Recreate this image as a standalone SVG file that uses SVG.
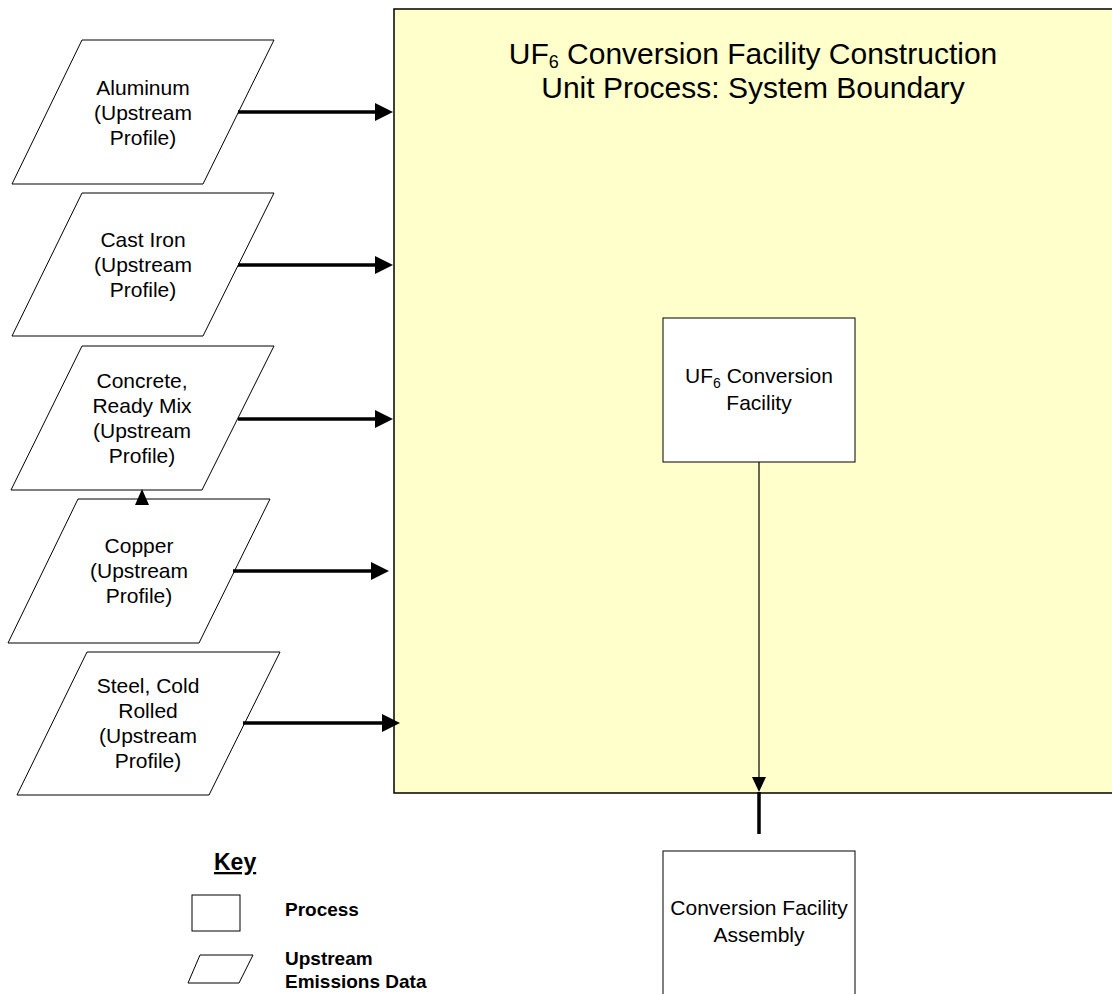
<svg xmlns="http://www.w3.org/2000/svg" width="1112" height="994" viewBox="0 0 1112 994">
<defs>
<style>
.t{font-family:"Liberation Sans",Arial,sans-serif;font-size:21px;fill:#000;text-anchor:middle}
.title{font-family:"Liberation Sans",Arial,sans-serif;font-size:30px;fill:#000;text-anchor:middle}
.k{font-family:"Liberation Sans",Arial,sans-serif;font-weight:bold;font-size:19px;fill:#000}
.key{font-size:23px;text-decoration:underline}
.shape{fill:#fff;stroke:#000;stroke-width:1}
.thick{stroke:#000;stroke-width:3.5;fill:none}
.thin{stroke:#000;stroke-width:1.2;fill:none}
.ah{fill:#000}
</style>
</defs>
<rect width="1112" height="994" fill="#fff"/>
<g id="boundary">
<path d="M1113,9 H394 V793 H1113" fill="#FFFFCC" stroke="#000" stroke-width="1.5"/>
<text class="title" x="753" y="64">UF<tspan font-size="18" dy="4">6</tspan><tspan dy="-4"> Conversion Facility Construction</tspan></text>
<text class="title" x="753" y="98">Unit Process: System Boundary</text>
</g>
<g id="aluminum">
<polygon class="shape" points="82,40 274,40 203,184 12,184"/>
<text class="t" x="143" y="95">Aluminum</text>
<text class="t" x="143" y="120">(Upstream</text>
<text class="t" x="143" y="145">Profile)</text>
</g>
<g id="castiron">
<polygon class="shape" points="82,193 274,193 203,336 12,336"/>
<text class="t" x="143" y="247">Cast Iron</text>
<text class="t" x="143" y="272">(Upstream</text>
<text class="t" x="143" y="297">Profile)</text>
</g>
<g id="concrete">
<polygon class="shape" points="82,346 274,346 202,490 11,490"/>
<text class="t" x="142" y="388">Concrete,</text>
<text class="t" x="142" y="413">Ready Mix</text>
<text class="t" x="142" y="438">(Upstream</text>
<text class="t" x="142" y="463">Profile)</text>
</g>
<g id="copper">
<polygon class="shape" points="78,499 270,499 199,643 8,643"/>
<text class="t" x="139" y="553">Copper</text>
<text class="t" x="139" y="578">(Upstream</text>
<text class="t" x="139" y="603">Profile)</text>
</g>
<g id="steel">
<polygon class="shape" points="87,652 280,652 209,795 17,795"/>
<text class="t" x="148" y="693">Steel, Cold</text>
<text class="t" x="148" y="718">Rolled</text>
<text class="t" x="148" y="743">(Upstream</text>
<text class="t" x="148" y="768">Profile)</text>
</g>
<g id="uf6facility">
<rect class="shape" x="663" y="318" width="192" height="144"/>
<text class="t" x="759" y="383">UF<tspan font-size="14" dy="5">6</tspan><tspan dy="-5"> Conversion</tspan></text>
<text class="t" x="759" y="410">Facility</text>
</g>
<g id="assembly">
<rect class="shape" x="663" y="851" width="192" height="160"/>
<text class="t" x="759" y="915">Conversion Facility</text>
<text class="t" x="759" y="942">Assembly</text>
</g>
<g id="key">
<text class="k key" x="214" y="870">Key</text>
<rect class="shape" x="192" y="895" width="48" height="36"/>
<text class="k" x="285" y="916">Process</text>
<polygon class="shape" points="200,955 253,955 239,983 188,983"/>
<text class="k" x="285" y="965">Upstream</text>
<text class="k" x="285" y="988">Emissions Data</text>
</g>
<g id="connectors">
<line class="thick" x1="238" y1="112" x2="376" y2="112"/>
<polygon class="ah" points="393,112 375,103 375,121"/>
<line class="thick" x1="238" y1="265" x2="376" y2="265"/>
<polygon class="ah" points="393,265 375,256 375,274"/>
<line class="thick" x1="238" y1="419" x2="376" y2="419"/>
<polygon class="ah" points="393,419 375,410 375,428"/>
<line class="thick" x1="233" y1="571" x2="372" y2="571"/>
<polygon class="ah" points="389,571 371,562 371,580"/>
<line class="thick" x1="243" y1="723" x2="383" y2="723"/>
<polygon class="ah" points="400,723 382,714 382,732"/>
<polygon class="ah" points="142,489 135,505 149,505"/>
<line class="thin" x1="759" y1="462" x2="759" y2="779"/>
<polygon class="ah" points="759,792 752,777 766,777"/>
<line class="thick" x1="759" y1="792" x2="759" y2="834"/>
</g>
</svg>
